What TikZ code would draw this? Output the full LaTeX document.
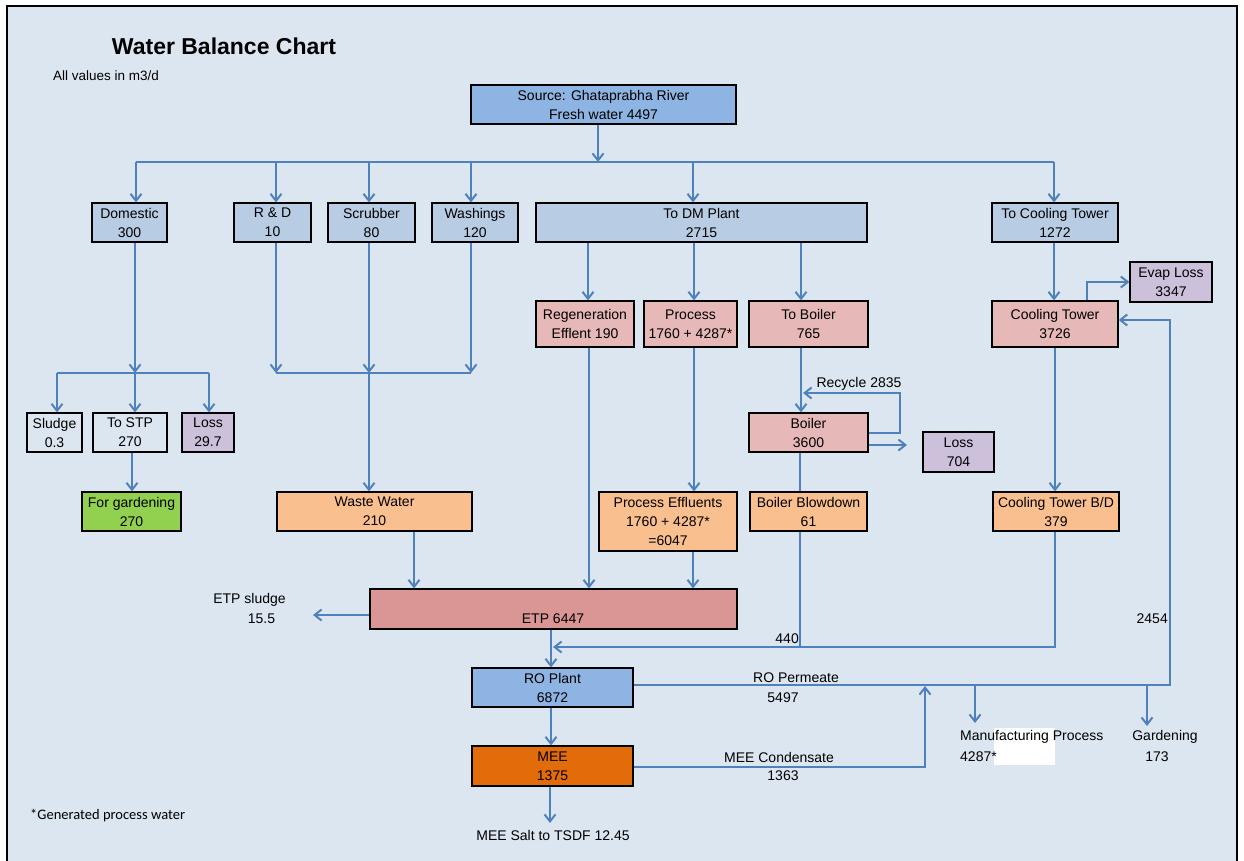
\documentclass[tikz,border=0pt]{standalone}
\usepackage{fontspec}
\setmainfont{Liberation Sans}
\newfontfamily\carlitofont{Carlito}
\usetikzlibrary{arrows.meta}
\definecolor{bgc}{RGB}{220,230,241}
\definecolor{srcc}{RGB}{141,180,226}
\definecolor{ltb}{RGB}{184,204,228}
\definecolor{pnk}{RGB}{230,184,183}
\definecolor{prp}{RGB}{204,192,218}
\definecolor{grn}{RGB}{146,208,80}
\definecolor{org}{RGB}{250,191,143}
\definecolor{etpc}{RGB}{218,150,148}
\definecolor{meec}{RGB}{226,107,10}
\definecolor{lnc}{RGB}{79,129,189}
\begin{document}
\begin{tikzpicture}[x=1pt,y=-1pt,
  box/.style={draw=black,line width=1.2pt,inner sep=0pt,align=center,font=\fontsize{14}{19}\selectfont,text=black},
  lbl/.style={inner sep=0pt,font=\fontsize{14}{17}\selectfont,text=black},
  ln/.style={draw=lnc,line width=2pt},
  arr/.style={ln,-{Straight Barb[length=7pt,width=11pt]}}]
\clip (0,0) rectangle (1244,861);
\fill[white] (0,0) rectangle (1244,861);
\draw[line width=1.5pt,fill=bgc] (7,6) rectangle (1237,880);
% titles
\node[inner sep=0pt,font=\bfseries\fontsize{23}{27}\selectfont] (title) at (224,46) {Water Balance Chart};
\node[anchor=west,inner sep=0pt,font=\fontsize{13.5}{16}\selectfont] (units) at (53,76) {All values in m3/d};
\node[anchor=west,inner sep=0pt,font=\carlitofont\fontsize{14.5}{17}\selectfont] (note) at (30,816) {*Generated process water};
% boxes
\node[box,fill=srcc,minimum width=265pt,minimum height=39pt] (src) at (603.5,104.5) {Source: Ghataprabha River\\Fresh water 4497};
\node[box,fill=ltb,minimum width=75pt,minimum height=39pt] (dom) at (129.5,222.5) {Domestic\\300};
\node[box,fill=ltb,minimum width=77pt,minimum height=39pt] (rd) at (272.5,222.5) {R \& D\\10};
\node[box,fill=ltb,minimum width=87pt,minimum height=39pt] (scr) at (371.5,222.5) {Scrubber\\80};
\node[box,fill=ltb,minimum width=86pt,minimum height=39pt] (wash) at (475,222.5) {Washings\\120};
\node[box,fill=ltb,minimum width=331pt,minimum height=39pt] (dm) at (701.5,222.5) {To DM Plant\\2715};
\node[box,fill=ltb,minimum width=126pt,minimum height=39pt] (tct) at (1055,222.5) {To Cooling Tower\\1272};
\node[box,fill=pnk,minimum width=98pt,minimum height=46pt] (regen) at (585,324) {Regeneration\\Efflent 190};
\node[box,fill=pnk,minimum width=93pt,minimum height=46pt] (proc) at (690.5,324) {Process\\1760 + 4287*};
\node[box,fill=pnk,minimum width=119pt,minimum height=46pt] (tboil) at (808.5,324) {To Boiler\\765};
\node[box,fill=pnk,minimum width=126pt,minimum height=46pt] (ct) at (1055,324) {Cooling Tower\\3726};
\node[box,fill=prp,minimum width=82pt,minimum height=40pt] (evap) at (1171,282) {Evap Loss\\3347};
\node[box,fill=bgc,minimum width=55pt,minimum height=39pt] (sludge) at (54.5,432.5) {Sludge\\0.3};
\node[box,fill=bgc,minimum width=74pt,minimum height=39pt] (stp) at (130,432.5) {To STP\\270};
\node[box,fill=prp,minimum width=52pt,minimum height=39pt] (lossa) at (208,432.5) {Loss\\29.7};
\node[box,fill=grn,minimum width=99pt,minimum height=39pt] (gard) at (131.5,511.5) {For gardening\\270};
\node[box,fill=org,minimum width=195pt,minimum height=39pt] (waste) at (374.5,511.5) {Waste Water\\210};
\node[box,fill=pnk,minimum width=119pt,minimum height=39pt] (boiler) at (808.5,432.5) {Boiler\\3600};
\node[box,fill=prp,minimum width=71pt,minimum height=40pt] (lossb) at (958.5,452) {Loss\\704};
\node[box,fill=org,minimum width=138pt,minimum height=59pt] (peff) at (668,521.5) {Process Effluents\\1760 + 4287*\\=6047};
\node[box,fill=org,minimum width=117pt,minimum height=39pt] (bbd) at (808.5,511.5) {Boiler Blowdown\\61};
\node[box,fill=org,minimum width=126pt,minimum height=39pt] (ctbd) at (1056,511.5) {Cooling Tower B/D\\379};
\node[box,fill=etpc,minimum width=367pt,minimum height=40pt] (etp) at (553.5,609) {};
\node[lbl] (etpt) at (553,619) {ETP 6447};
\node[box,fill=srcc,minimum width=161pt,minimum height=39pt] (ro) at (552.5,687.5) {RO Plant\\6872};
\node[box,fill=meec,minimum width=161pt,minimum height=40pt] (mee) at (552.5,766) {MEE\\1375};
% free labels
\node[lbl] (rec) at (859,384) {Recycle 2835};
\node[lbl] (etps1) at (249.5,600) {ETP sludge};
\node[lbl] (etps2) at (261.5,619) {15.5};
\node[lbl,anchor=east] (l440) at (799,639) {440};
\node[lbl,anchor=east] (l2454) at (1168,619) {2454};
\node[lbl] (rop1) at (796,678) {RO Permeate};
\node[lbl] (rop2) at (783,698) {5497};
\node[lbl] (mc1) at (779,757) {MEE Condensate};
\node[lbl] (mc2) at (783,776) {1363};
\fill[white] (994,728) rectangle (1055,765);
\node[lbl,anchor=west] (mp1) at (960,737) {Manufacturing Process};
\node[lbl,anchor=west] (mp2) at (960,757) {4287*};
\node[lbl] (gd1) at (1165,737) {Gardening};
\node[lbl] (gd2) at (1157,757) {173};
\node[lbl] (salt) at (553,835) {MEE Salt to TSDF 12.45};
% connectors
\coordinate (j0) at (598,162);
\draw[arr] (j0 |- src.south) -- (j0);
\draw[ln] (136,162) -- (1054,162);
\foreach \x/\n in {136/dom,276/rd,369/scr,471/wash,693/dm,1054/tct}{
  \coordinate (t) at (\x,162);
  \draw[arr] (t) -- (t |- \n.north);}
\foreach \x/\n in {588/regen,694/proc,801/tboil}{
  \coordinate (t) at (\x,0);
  \draw[arr] (t |- dm.south) -- (t |- \n.north);}
\coordinate (v1) at (1054,0);
\draw[arr] (v1 |- tct.south) -- (v1 |- ct.north);
\coordinate (e1) at (1087,0);
\draw[arr] (e1 |- ct.north) -- (e1 |- evap.west) -- (evap.west);
% domestic branch
\coordinate (dj) at (135,373);
\draw[arr] (dj |- dom.south) -- (dj);
\draw[ln] (57,373) -- (209,373);
\foreach \x/\n in {57/sludge,135/stp,209/lossa}{
  \coordinate (t) at (\x,373);
  \draw[arr] (t) -- (t |- \n.north);}
\coordinate (g1) at (132,0);
\draw[arr] (g1 |- stp.south) -- (g1 |- gard.north);
% R&D, scrubber, washings
\foreach \x/\n in {276/rd,369/scr,471/wash}{
  \coordinate (t) at (\x,373);
  \draw[arr] (t |- \n.south) -- (t);}
\draw[ln] (276,373) -- (471,373);
\coordinate (w1) at (369,373);
\draw[arr] (w1) -- (w1 |- waste.north);
\coordinate (w2) at (414,0);
\draw[arr] (w2 |- waste.south) -- (w2 |- etp.north);
\coordinate (r1) at (589,0);
\draw[arr] (r1 |- regen.south) -- (r1 |- etp.north);
\coordinate (p1) at (694,0);
\draw[arr] (p1 |- proc.south) -- (p1 |- peff.north);
\coordinate (p2) at (693,0);
\draw[arr] (p2 |- peff.south) -- (p2 |- etp.north);
% boiler
\coordinate (b1) at (801,0);
\draw[arr] (b1 |- tboil.south) -- (b1 |- boiler.north);
\coordinate (rc1) at (900,432.5);
\coordinate (rc2) at (900,393);
\draw[arr] (boiler.east) -- (rc1) -- (rc2) -- (803,393);
\coordinate (lb) at (907,445);
\draw[arr] (lb -| boiler.east) -- (lb);
\coordinate (v8) at (800,0);
\draw[ln] (v8 |- boiler.south) -- (v8 |- bbd.north);
\coordinate (j440) at (800,647);
\draw[ln] (v8 |- bbd.south) -- (j440);
% cooling tower blowdown
\coordinate (v10) at (1055,0);
\draw[arr] (v10 |- ct.south) -- (v10 |- ctbd.north);
\coordinate (cb) at (1055,647);
\draw[arr] (v10 |- ctbd.south) -- (cb) -- (553,647);
% ETP
\coordinate (v5) at (551,0);
\draw[arr] (v5 |- etp.south) -- (v5 |- ro.north);
\coordinate (sl) at (313,615);
\draw[arr] (sl -| etp.west) -- (sl);
\draw[arr] (v5 |- ro.south) -- (v5 |- mee.north);
% RO permeate
\coordinate (c1) at (1170,685);
\coordinate (c2) at (1170,320);
\draw[arr] (c1 -| ro.east) -- (c1) -- (c2) -- (c2 -| ct.east);
\coordinate (mpa) at (975,685);
\draw[arr] (mpa) -- (975,723);
\coordinate (gda) at (1147,685);
\draw[arr] (gda) -- (1147,726);
% MEE condensate
\coordinate (m1) at (925,767);
\draw[arr] (m1 -| mee.east) -- (m1) -- (925,686);
\coordinate (s1) at (550,823);
\draw[arr] (s1 |- mee.south) -- (s1);
\end{tikzpicture}
\end{document}
